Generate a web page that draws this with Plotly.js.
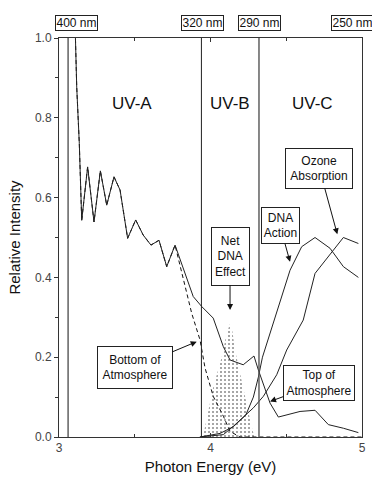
<!DOCTYPE html>
<html>
<head>
<meta charset="utf-8">
<script src="https://cdn.plot.ly/plotly-3.0.1.min.js"></script>
<style>html,body{margin:0;padding:0;background:#fff;}#chart{width:372px;height:479px;}</style>
</head>
<body>
<div id="chart"></div>
<script>
// Top of atmosphere solar spectrum (solid)
const topEnergy = [3.105, 3.117, 3.134, 3.143, 3.150, 3.189, 3.231, 3.273, 3.315, 3.363, 3.403, 3.453, 3.506, 3.556, 3.607, 3.660, 3.711, 3.766, 3.886, 3.942, 4.018, 4.084, 4.129, 4.216, 4.287, 4.316, 4.360, 4.393, 4.448, 4.591, 4.690, 4.778, 4.877, 4.976];
const topIntensity = [1.05, 0.877, 0.736, 0.586, 0.543, 0.677, 0.539, 0.667, 0.581, 0.652, 0.619, 0.498, 0.544, 0.506, 0.481, 0.493, 0.427, 0.481, 0.352, 0.327, 0.298, 0.227, 0.193, 0.181, 0.203, 0.168, 0.118, 0.085, 0.050, 0.064, 0.067, 0.031, 0.022, 0.011];
// Bottom of atmosphere spectrum (dashed)
const bottomEnergy = [3.105, 3.117, 3.134, 3.143, 3.150, 3.189, 3.231, 3.273, 3.315, 3.363, 3.403, 3.453, 3.506, 3.556, 3.607, 3.660, 3.711, 3.766, 3.876, 3.931, 3.964, 4.018, 4.085, 4.129, 4.195, 5.0];
const bottomIntensity = [1.05, 0.877, 0.736, 0.586, 0.543, 0.677, 0.539, 0.667, 0.581, 0.652, 0.619, 0.498, 0.544, 0.506, 0.481, 0.493, 0.427, 0.481, 0.310, 0.243, 0.173, 0.102, 0.052, 0.014, 0.0, 0.0];
// DNA action spectrum
const dnaEnergy = [3.93, 4.063, 4.151, 4.233, 4.283, 4.316, 4.343, 4.393, 4.459, 4.525, 4.602, 4.690, 4.789, 4.877, 4.976];
const dnaAction = [0.0, 0.009, 0.026, 0.055, 0.100, 0.150, 0.200, 0.260, 0.335, 0.418, 0.477, 0.500, 0.473, 0.427, 0.400];
// Ozone absorption
const ozoneEnergy = [3.93, 4.085, 4.151, 4.283, 4.349, 4.437, 4.503, 4.612, 4.690, 4.778, 4.877, 4.976];
const ozoneAbsorption = [0.0, 0.006, 0.027, 0.073, 0.102, 0.156, 0.218, 0.293, 0.410, 0.452, 0.500, 0.485];
// Net DNA effect (dotted area)
const netEnergy = [3.95, 3.975, 4.018, 4.074, 4.107, 4.135, 4.162, 4.195, 4.239, 4.272, 4.29];
const netEffect = [0.0, 0.043, 0.125, 0.200, 0.260, 0.290, 0.218, 0.160, 0.080, 0.025, 0.0];

// Band boundaries and labels
const bandBounds = [3.06, 3.94, 4.32];
const bandLabels = ['UV-A', 'UV-B', 'UV-C'];
const bandLabelX = [3.48, 4.13, 4.67];
const wavelengthLabels = ['400 nm', '320 nm', '290 nm', '250 nm'];
const wavelengthX = [3.116, 3.944, 4.323, 4.936];

// Callouts
const calloutText = ['Ozone<br>Absorption', 'DNA<br>Action', 'Net<br>DNA<br>Effect', 'Bottom of<br>Atmosphere', 'Top of<br>Atmosphere'];
const calloutTipX = [4.837, 4.525, 4.129, 3.909, 4.393];
const calloutTipY = [0.508, 0.439, 0.318, 0.239, 0.089];

const FONT = 'Arial, "Liberation Sans", sans-serif';

const traces = [
  {x: netEnergy, y: netEffect, type: 'scatter', mode: 'lines', line: {width: 0, color: 'rgba(0,0,0,0)'},
   fill: 'tozeroy', fillcolor: 'rgba(0,0,0,0)',
   fillpattern: {shape: '.', size: 4, solidity: 0.2, fgcolor: '#888', bgcolor: 'rgba(0,0,0,0)'}, showlegend: false, hoverinfo: 'skip'},
  {x: bottomEnergy, y: bottomIntensity, type: 'scatter', mode: 'lines', line: {color: '#111', width: 1, dash: '4px,3px'}, showlegend: false},
  {x: topEnergy, y: topIntensity, type: 'scatter', mode: 'lines', line: {color: '#222', width: 1}, showlegend: false},
  {x: dnaEnergy, y: dnaAction, type: 'scatter', mode: 'lines', line: {color: '#222', width: 1}, showlegend: false},
  {x: ozoneEnergy, y: ozoneAbsorption, type: 'scatter', mode: 'lines', line: {color: '#222', width: 1}, showlegend: false}
];

const shapes = bandBounds.map((b, i) => ({
  type: 'line', xref: 'x', yref: 'y', x0: b, x1: b, y0: 0, y1: 1,
  line: {color: i === 1 ? '#222' : '#555', width: i === 1 ? 1 : 1.4}
}));

const annotations = [];
bandLabels.forEach((t, i) => annotations.push({
  x: bandLabelX[i], y: 0.836, xref: 'x', yref: 'y', text: t, showarrow: false,
  font: {family: FONT, size: 17, color: '#111'}
}));
wavelengthLabels.forEach((t, i) => annotations.push({
  x: wavelengthX[i], y: 1.058, xref: 'x', yref: 'paper', text: t, showarrow: false,
  font: {family: FONT, size: 12, color: '#111'}, bordercolor: '#222', borderwidth: 1, borderpad: 0,
  width: 41, height: 14, bgcolor: '#fff'
}));
const calloutAx = [-18, -10, 0, -62, 49];
const calloutAy = [-66, -36, -54, 26, -18];
const calloutW = [66, 37, 37, 74, 70];
const calloutH = [39, 35, 57, 41, 34];
calloutText.forEach((t, i) => annotations.push({
  x: calloutTipX[i], y: calloutTipY[i], xref: 'x', yref: 'y', text: t,
  showarrow: true, arrowhead: 2, arrowsize: 1.2, arrowwidth: 1, arrowcolor: '#111',
  ax: calloutAx[i], ay: calloutAy[i], axref: 'pixel', ayref: 'pixel',
  font: {family: FONT, size: 12, color: '#111'}, bordercolor: '#222', borderwidth: 1, borderpad: 0,
  width: calloutW[i], height: calloutH[i], bgcolor: '#fff'
}));

const layout = {
  width: 372, height: 479,
  margin: {l: 59, r: 10, t: 38, b: 42, pad: 0},
  paper_bgcolor: '#fff', plot_bgcolor: '#fff',
  font: {family: FONT, size: 12, color: '#444'},
  showlegend: false,
  xaxis: {
    range: [3, 5], dtick: 1, tick0: 3, ticks: 'inside', ticklen: 4, tickcolor: '#333',
    minor: {dtick: 0.5, ticks: 'inside', ticklen: 3, tickcolor: '#333'},
    showline: true, linecolor: '#333', linewidth: 1, mirror: 'allticks',
    showgrid: false, zeroline: false,
    tickfont: {family: FONT, size: 12, color: '#444'},
    title: {text: 'Photon Energy (eV)', font: {family: FONT, size: 15, color: '#111'}, standoff: 7}
  },
  yaxis: {
    range: [0, 1], dtick: 0.2, tickformat: '.1f', ticks: 'outside', ticklen: 4, tickcolor: '#333',
    minor: {dtick: 0.1, ticks: 'outside', ticklen: 3, tickcolor: '#333'},
    showline: true, linecolor: '#333', linewidth: 1, mirror: true,
    showgrid: false, zeroline: false,
    tickfont: {family: FONT, size: 12, color: '#444'},
    title: {text: 'Relative Intensity', font: {family: FONT, size: 15, color: '#111'}, standoff: 10}
  },
  yaxis2: {
    range: [0, 1], overlaying: 'y', side: 'right', dtick: 0.2, ticks: 'inside', ticklen: 4, tickcolor: '#333',
    minor: {dtick: 0.1, ticks: 'inside', ticklen: 3, tickcolor: '#333'},
    showticklabels: false, showgrid: false, zeroline: false, showline: false
  },
  shapes: shapes,
  annotations: annotations
};

Plotly.newPlot('chart', traces, layout, {displayModeBar: false, staticPlot: true});
</script>
</body>
</html>
